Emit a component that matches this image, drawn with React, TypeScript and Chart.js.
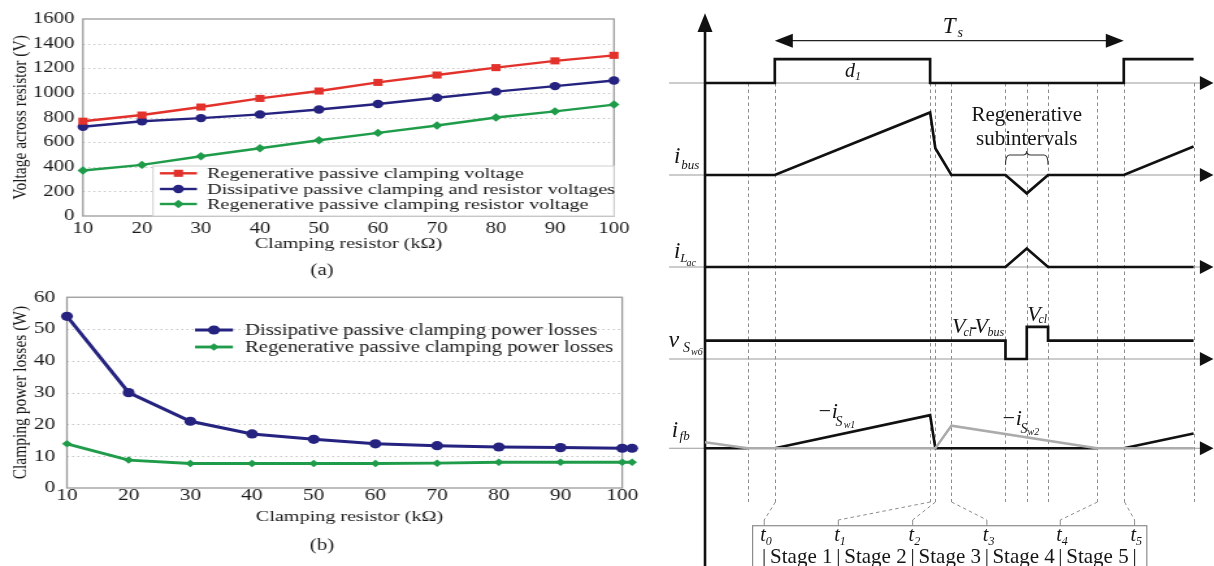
import React, { useEffect, useRef } from "react";
import { Chart, registerables } from "chart.js";

Chart.register(...registerables);

const SERIF = '"Liberation Serif", "Times New Roman", Times, serif';
const TEXT = "#1a1a1a";
const RED = "#e2322b";
const BLUE = "#25237f";
const GREEN = "#1f9c4a";

// ---------------- shared x ticks ----------------
const resistorTicks = [10, 20, 30, 40, 50, 60, 70, 80, 90, 100];

// ---------------- panel (a) ----------------
const resistorA = [10, 20, 30, 40, 50, 60, 70, 80, 90, 100];
const regenClampVoltage = [770, 820, 885, 955, 1015, 1085, 1145, 1205, 1260, 1305];
const dissipVoltage = [725, 770, 795, 825, 865, 910, 960, 1010, 1055, 1100];
const regenResistorVoltage = [370, 415, 485, 550, 615, 675, 735, 800, 850, 905];
const legendA = [
  "Regenerative passive clamping voltage",
  "Dissipative passive clamping and resistor voltages",
  "Regenerative passive clamping resistor voltage",
];
const yRangeA = [0, 1600];
const yStepA = 200;
const xRangeA = [10, 100];

// ---------------- panel (b) ----------------
const resistorB = [10, 20, 30, 40, 50, 60, 70, 80, 90, 100, 101.6];
const dissipLoss = [54, 30, 21, 17, 15.3, 13.9, 13.3, 12.9, 12.7, 12.5, 12.5];
const regenLoss = [13.9, 8.8, 7.7, 7.7, 7.7, 7.7, 7.8, 8.1, 8.1, 8.1, 8.1];
const legendB = [
  "Dissipative passive clamping power losses",
  "Regenerative passive clamping power losses",
];
const yRangeB = [0, 60];
const yStepB = 10;
const xRangeB = [10, 101.6];
const xFrameEnd = 100;

// ---------------- timing diagram ----------------
const TIME_MIN = -12.9;
const TIME_MAX = 145.85;
const LEVEL_MAX = 61.52;
const rowBaselines = [52.5, 42.5, 32.5, 22.5, 12.8]; // d1, i_bus, i_Lac, v_Sw6, i_fb
const gateTime = [0, 20, 20, 64.5, 64.5, 120, 120, 140];
const gateLevel = [0, 0, 2.6, 2.6, 0, 0, 2.6, 2.6];
const busTime = [0, 20, 64.5, 66, 70.6, 86.1, 92.2, 98.3, 120, 140];
const busLevel = [0, 0, 6.8, 2.9, 0, 0, -2, 0, 0, 3.1];
const lacTime = [0, 86.1, 92.2, 98.3, 140];
const lacLevel = [0, 0, 2, 0, 0];
const vswTime = [0, 86.1, 86.1, 92.2, 92.2, 98.3, 98.3, 140];
const vswLevel = [2, 2, 0, 0, 3.5, 3.5, 2, 2];
const fbSw1Time = [0, 12.2, 16, 20, 64.5, 66, 112.3, 116, 120, 140];
const fbSw1Level: (number | null)[] = [0, 0, null, 0, 3.6, 0, 0, null, 0, 1.6];
const fbSw2Time = [0, 12.2, 66, 70.6, 112.3, 140];
const fbSw2Level = [0.65, 0, 0, 2.45, 0, 0];
const dashTimes = [12.2, 20, 64.5, 66, 70.6, 86.1, 92.2, 98.3, 112.3, 120, 140];
const stageTimes = [16.96, 38.2, 59.5, 80.77, 101.8, 123.1];
const stageLinks = [20, 64.5, 66, 70.6, 112.3, 120];
const stageNames = ["Stage 1", "Stage 2", "Stage 3", "Stage 4", "Stage 5"];
const periodSpan = [20, 120];
const regenSpan = [86.1, 98.3];

type Lbl = { text: string; t: number; v: number; size: number; italic?: boolean; align?: CanvasTextAlign };
const diagramLabels: Lbl[] = [
  { text: "T", t: 68.1, v: 57.93, size: 23, italic: true },
  { text: "s", t: 72.35, v: 57.5, size: 14, italic: true },
  { text: "d", t: 40.1, v: 53.15, size: 20, italic: true },
  { text: "1", t: 42.98, v: 52.83, size: 12, italic: true },
  { text: "Regenerative", t: 92.2, v: 48.37, size: 21, align: "center" },
  { text: "subintervals", t: 92.2, v: 45.76, size: 21, align: "center" },
  { text: "i", t: -8.9, v: 43.8, size: 23, italic: true },
  { text: "bus", t: -6.8, v: 43.15, size: 13, italic: true },
  { text: "i", t: -8.9, v: 33.48, size: 23, italic: true },
  { text: "L", t: -7.1, v: 33.04, size: 13, italic: true },
  { text: "ac", t: -5.3, v: 32.6, size: 10, italic: true },
  { text: "v", t: -10.5, v: 23.84, size: 24, italic: true },
  { text: "S", t: -6.3, v: 23.26, size: 14, italic: true },
  { text: "w6", t: -4.0, v: 22.93, size: 10, italic: true },
  { text: "i", t: -9.5, v: 14.05, size: 23, italic: true },
  { text: "fb", t: -7.3, v: 13.7, size: 13, italic: true },
  { text: "V", t: 70.77, v: 25.33, size: 22, italic: true },
  { text: "cl", t: 74.07, v: 25.0, size: 12, italic: true },
  { text: "-", t: 76.07, v: 25.33, size: 20 },
  { text: "V", t: 77.22, v: 25.33, size: 22, italic: true },
  { text: "bus", t: 80.95, v: 25.0, size: 12, italic: true },
  { text: "V", t: 92.35, v: 26.66, size: 22, italic: true },
  { text: "cl", t: 95.56, v: 26.38, size: 12, italic: true },
  { text: "\u2212i", t: 32.09, v: 16.09, size: 22, italic: true },
  { text: "S", t: 37.39, v: 15.25, size: 14, italic: true },
  { text: "w1", t: 39.74, v: 15.0, size: 10, italic: true },
  { text: "\u2212i", t: 84.81, v: 15.33, size: 22, italic: true },
  { text: "S", t: 90.37, v: 14.42, size: 14, italic: true },
  { text: "w2", t: 92.41, v: 14.24, size: 10, italic: true },
];

// ---------------- helpers ----------------
type Series = { label: string; x: number[]; y: number[]; color: string; style: string; radius: number; width: number };

function lineDataset(s: Series) {
  return {
    label: s.label,
    data: s.x.map((x, i) => ({ x, y: s.y[i] })),
    borderColor: s.color,
    backgroundColor: s.color,
    pointBackgroundColor: s.color,
    pointBorderColor: s.color,
    pointStyle: s.style,
    pointRadius: s.radius,
    pointBorderWidth: 0,
    borderWidth: s.width,
    tension: 0,
    clip: false,
  };
}

function drawMarker(ctx: CanvasRenderingContext2D, style: string, x: number, y: number, r: number, color: string) {
  ctx.fillStyle = color;
  ctx.beginPath();
  if (style === "rect") {
    const s = r * Math.SQRT1_2;
    ctx.rect(x - s, y - s, 2 * s, 2 * s);
  } else if (style === "rectRot") {
    ctx.moveTo(x, y - r);
    ctx.lineTo(x + r, y);
    ctx.lineTo(x, y + r);
    ctx.lineTo(x - r, y);
    ctx.closePath();
  } else {
    ctx.arc(x, y, r, 0, Math.PI * 2);
  }
  ctx.fill();
}

type PanelDecor = {
  box: boolean;
  boxLeft: number;
  boxTop: number;
  lineX0: number;
  lineX1: number;
  textX: number;
  rows: number[];
  font: number;
  caption: string;
  capX: number;
  capY: number;
  frameEnd: number;
};

function panelPlugin(p: PanelDecor) {
  return {
    id: "panelDecor",
    beforeDatasetsDraw(chart: any) {
      const { ctx, chartArea: ca, scales } = chart;
      const ys = scales.y;
      const right = scales.x.getPixelForValue(p.frameEnd);
      ctx.save();
      ctx.strokeStyle = "#c6c6c6";
      ctx.lineWidth = 1;
      ctx.setLineDash([1.5, 2.5]);
      ys.ticks.forEach((tk: any) => {
        if (tk.value <= ys.min || tk.value >= ys.max) return;
        const py = Math.round(ys.getPixelForValue(tk.value)) + 0.5;
        ctx.beginPath();
        ctx.moveTo(ca.left, py);
        ctx.lineTo(right, py);
        ctx.stroke();
      });
      ctx.setLineDash([]);
      ctx.strokeStyle = "#9b9b9b";
      ctx.lineWidth = 1.3;
      ctx.strokeRect(ca.left, ca.top, right - ca.left, ca.bottom - ca.top);
      ctx.restore();
    },
    afterDatasetsDraw(chart: any) {
      const { ctx, chartArea: ca, scales } = chart;
      const right = scales.x.getPixelForValue(p.frameEnd);
      ctx.save();
      if (p.box) {
        ctx.fillStyle = "#fff";
        ctx.fillRect(p.boxLeft, p.boxTop, right - p.boxLeft, ca.bottom - p.boxTop);
        ctx.strokeStyle = "#d0d0d0";
        ctx.lineWidth = 1;
        ctx.strokeRect(p.boxLeft, p.boxTop, right - p.boxLeft, ca.bottom - p.boxTop);
      }
      chart.data.datasets.forEach((ds: any, i: number) => {
        const y = p.rows[i];
        ctx.strokeStyle = ds.borderColor;
        ctx.lineWidth = ds.borderWidth;
        ctx.beginPath();
        ctx.moveTo(p.lineX0, y);
        ctx.lineTo(p.lineX1, y);
        ctx.stroke();
        drawMarker(ctx, ds.pointStyle, (p.lineX0 + p.lineX1) / 2, y, ds.pointRadius, ds.borderColor);
        ctx.fillStyle = TEXT;
        ctx.font = `${p.font}px ${SERIF}`;
        ctx.textAlign = "left";
        ctx.textBaseline = "middle";
        ctx.fillText(ds.label, p.textX, y + 1);
      });
      ctx.fillStyle = TEXT;
      ctx.font = `16px ${SERIF}`;
      ctx.textAlign = "center";
      ctx.textBaseline = "middle";
      ctx.fillText(p.caption, p.capX, p.capY);
      ctx.restore();
    },
  };
}

function panelConfig(opts: {
  series: Series[];
  xMin: number;
  xMax: number;
  yMin: number;
  yMax: number;
  yStep: number;
  yTitle: string;
  padTop: number;
  padRight: number;
  yWidth: number;
  xHeight: number;
  xTickPad: number;
  yTickPad: number;
  tickSize: number;
  xTitlePad: number;
  decor: PanelDecor;
}) {
  const tickFont = { family: SERIF, size: opts.tickSize, lineHeight: 1.2 };
  return {
    type: "line",
    data: { datasets: opts.series.map(lineDataset) },
    options: {
      animation: false,
      responsive: false,
      devicePixelRatio: 1,
      events: [],
      layout: { padding: { left: 0, top: opts.padTop, right: opts.padRight, bottom: 0 } },
      plugins: { legend: { display: false }, tooltip: { enabled: false } },
      scales: {
        x: {
          type: "linear",
          min: opts.xMin,
          max: opts.xMax,
          grid: { display: false, drawTicks: false },
          border: { display: false },
          afterBuildTicks: (s: any) => {
            s.ticks = resistorTicks.map((v) => ({ value: v }));
          },
          ticks: {
            color: TEXT,
            font: tickFont,
            padding: opts.xTickPad,
            maxRotation: 0,
            autoSkip: false,
            callback: (v: number) => String(v),
          },
          title: {
            display: true,
            text: "Clamping resistor (k\u03a9)",
            color: TEXT,
            font: { family: SERIF, size: 15.5, lineHeight: 1.2 },
            padding: { top: 0, bottom: opts.xTitlePad },
          },
          afterFit: (s: any) => {
            s.height = opts.xHeight;
          },
        },
        y: {
          type: "linear",
          min: opts.yMin,
          max: opts.yMax,
          grid: { display: false, drawTicks: false },
          border: { display: false },
          ticks: {
            stepSize: opts.yStep,
            color: TEXT,
            font: { family: SERIF, size: opts.tickSize, lineHeight: 1 },
            padding: opts.yTickPad,
            callback: (v: number) => String(v),
          },
          title: {
            display: true,
            text: opts.yTitle,
            color: TEXT,
            font: { family: SERIF, size: 15.5, lineHeight: 1.2 },
            padding: { top: 6.4, bottom: 0 },
          },
          afterFit: (s: any) => {
            s.width = opts.yWidth;
          },
        },
      },
    },
    plugins: [panelPlugin(opts.decor)],
  };
}

// ---------------- diagram plugin ----------------
const diagramPlugin = {
  id: "timingDecor",
  beforeDatasetsDraw(chart: any) {
    const { ctx, scales } = chart;
    const X = (t: number) => scales.x.getPixelForValue(t);
    const Y = (v: number) => scales.y.getPixelForValue(v);
    const seg = (x0: number, y0: number, x1: number, y1: number) => {
      ctx.beginPath();
      ctx.moveTo(x0, y0);
      ctx.lineTo(x1, y1);
      ctx.stroke();
    };
    const dashBottom = 6.96;
    const linkEnd = 5.0;
    const boxTop = 4.38;
    ctx.save();
    ctx.strokeStyle = "#8c8c8c";
    ctx.lineWidth = 1;
    ctx.setLineDash([3.5, 3]);
    dashTimes.forEach((t) => seg(Math.round(X(t)) + 0.5, Y(rowBaselines[0]), Math.round(X(t)) + 0.5, Y(dashBottom)));
    stageTimes.forEach((st, i) => seg(Math.round(X(stageLinks[i])) + 0.5, Y(dashBottom), X(st), Y(linkEnd)));
    ctx.setLineDash([]);
    stageTimes.forEach((st) => seg(X(st), Y(linkEnd), X(st), Y(boxTop)));
    ctx.strokeStyle = "#8c8c8c";
    ctx.lineWidth = 1.2;
    const bx0 = X(13.64);
    const bx1 = X(126.6);
    ctx.strokeRect(bx0, Y(boxTop), bx1 - bx0, Y(-2) - Y(boxTop));
    rowBaselines.forEach((b) => {
      ctx.strokeStyle = "#9a9a9a";
      ctx.lineWidth = 1.2;
      seg(X(-10.3), Y(b), X(141.9), Y(b));
      ctx.fillStyle = "#111";
      ctx.beginPath();
      ctx.moveTo(X(145.7), Y(b));
      ctx.lineTo(X(141.8), Y(b) - 7);
      ctx.lineTo(X(141.8), Y(b) + 7);
      ctx.closePath();
      ctx.fill();
    });
    ctx.strokeStyle = "#111";
    ctx.lineWidth = 2.6;
    seg(X(0), Y(-1), X(0), Y(58.5));
    ctx.fillStyle = "#111";
    ctx.beginPath();
    ctx.moveTo(X(0), Y(60.07));
    ctx.lineTo(X(0) - 7.5, Y(58.05));
    ctx.lineTo(X(0) + 7.5, Y(58.05));
    ctx.closePath();
    ctx.fill();
    const ya = Y(57.1);
    ctx.strokeStyle = "#222";
    ctx.lineWidth = 1.2;
    seg(X(periodSpan[0]) + 10, ya, X(periodSpan[1]) - 10, ya);
    ctx.beginPath();
    ctx.moveTo(X(periodSpan[0]), ya);
    ctx.lineTo(X(periodSpan[0]) + 18, ya - 7);
    ctx.lineTo(X(periodSpan[0]) + 18, ya + 7);
    ctx.closePath();
    ctx.fill();
    ctx.beginPath();
    ctx.moveTo(X(periodSpan[1]), ya);
    ctx.lineTo(X(periodSpan[1]) - 18, ya - 7);
    ctx.lineTo(X(periodSpan[1]) - 18, ya + 7);
    ctx.closePath();
    ctx.fill();
    ctx.restore();
  },
  afterDatasetsDraw(chart: any) {
    const { ctx, scales } = chart;
    const X = (t: number) => scales.x.getPixelForValue(t);
    const Y = (v: number) => scales.y.getPixelForValue(v);
    ctx.save();
    ctx.fillStyle = "#151515";
    ctx.textBaseline = "alphabetic";
    diagramLabels.forEach((l) => {
      ctx.font = `${l.italic ? "italic " : ""}${l.size}px ${SERIF}`;
      ctx.textAlign = l.align || "left";
      ctx.fillText(l.text, X(l.t), Y(l.v));
    });
    const a = X(regenSpan[0]);
    const b = X(regenSpan[1]);
    const c = (a + b) / 2;
    const lo = Y(43.6);
    const top = Y(44.67);
    const tip = Y(45.1);
    ctx.strokeStyle = "#333";
    ctx.lineWidth = 1.2;
    ctx.beginPath();
    ctx.moveTo(a, lo);
    ctx.quadraticCurveTo(a, top, a + 4, top);
    ctx.lineTo(c - 4, top);
    ctx.quadraticCurveTo(c, top, c, tip);
    ctx.quadraticCurveTo(c, top, c + 4, top);
    ctx.lineTo(b - 4, top);
    ctx.quadraticCurveTo(b, top, b, lo);
    ctx.stroke();
    stageTimes.forEach((st, i) => {
      const x = X(st);
      ctx.font = `italic 20px ${SERIF}`;
      ctx.textAlign = "right";
      ctx.fillText("t", x + 1.5, Y(2.72));
      ctx.font = `italic 12px ${SERIF}`;
      ctx.textAlign = "left";
      ctx.fillText(String(i), x + 1.5, Y(2.28));
      ctx.font = `21px ${SERIF}`;
      ctx.textAlign = "center";
      ctx.fillText("|", x, Y(0.33));
      if (i < stageNames.length) {
        ctx.fillText(stageNames[i], (x + X(stageTimes[i + 1])) / 2, Y(0.33));
      }
    });
    ctx.restore();
  },
};

function wave(label: string, times: number[], levels: (number | null)[], base: number, color: string, width: number) {
  return {
    label,
    data: times.map((t, i) => ({ x: t, y: levels[i] === null ? null : base + (levels[i] as number) })),
    borderColor: color,
    backgroundColor: color,
    borderWidth: width,
    pointRadius: 0,
    tension: 0,
    spanGaps: false,
    borderJoinStyle: "miter",
    borderCapStyle: "butt",
  };
}

export default function App() {
  const aRef = useRef<HTMLCanvasElement>(null);
  const bRef = useRef<HTMLCanvasElement>(null);
  const dRef = useRef<HTMLCanvasElement>(null);

  useEffect(() => {
    document.body.style.margin = "0";
    const cfgA: any = panelConfig({
      series: [
        { label: legendA[0], x: resistorA, y: regenClampVoltage, color: RED, style: "rect", radius: 5, width: 2.4 },
        { label: legendA[1], x: resistorA, y: dissipVoltage, color: BLUE, style: "circle", radius: 4.2, width: 2.4 },
        { label: legendA[2], x: resistorA, y: regenResistorVoltage, color: GREEN, style: "rectRot", radius: 4.2, width: 2.4 },
      ],
      xMin: xRangeA[0],
      xMax: xRangeA[1],
      yMin: yRangeA[0],
      yMax: yRangeA[1],
      yStep: yStepA,
      yTitle: "Voltage across resistor (V)",
      padTop: 19,
      padRight: 27.7,
      yWidth: 63.8,
      xHeight: 64,
      xTickPad: 3,
      yTickPad: 6.5,
      tickSize: 16,
      xTitlePad: 27,
      decor: {
        box: true,
        boxLeft: 117.7,
        boxTop: 166,
        lineX0: 123,
        lineX1: 151.5,
        textX: 159.2,
        rows: [173.3, 189, 204],
        font: 15.6,
        caption: "(a)",
        capX: 247.7,
        capY: 271,
        frameEnd: xRangeA[1],
      },
    });
    const cfgB: any = panelConfig({
      series: [
        { label: legendB[0], x: resistorB, y: dissipLoss, color: BLUE, style: "circle", radius: 4.6, width: 3 },
        { label: legendB[1], x: resistorB, y: regenLoss, color: GREEN, style: "rectRot", radius: 3.8, width: 2.8 },
      ],
      xMin: xRangeB[0],
      xMax: xRangeB[1],
      yMin: yRangeB[0],
      yMax: yRangeB[1],
      yStep: yStepB,
      yTitle: "Clamping power losses (W)",
      padTop: 8,
      padRight: 13.8,
      yWidth: 51.5,
      xHeight: 78,
      xTickPad: -2,
      yTickPad: 9,
      tickSize: 16.5,
      xTitlePad: 40,
      decor: {
        box: false,
        boxLeft: 0,
        boxTop: 0,
        lineX0: 150,
        lineX1: 179.2,
        textX: 188.5,
        rows: [50, 67],
        font: 15.9,
        caption: "(b)",
        capX: 247.7,
        capY: 266,
        frameEnd: xFrameEnd,
      },
    });
    const cfgD: any = {
      type: "line",
      data: {
        datasets: [
          wave("d1", gateTime, gateLevel, rowBaselines[0], "#111", 2.7),
          wave("i_bus", busTime, busLevel, rowBaselines[1], "#111", 2.7),
          wave("i_Lac", lacTime, lacLevel, rowBaselines[2], "#111", 2.7),
          wave("v_Sw6", vswTime, vswLevel, rowBaselines[3], "#111", 2.7),
          wave("-i_Sw2", fbSw2Time, fbSw2Level, rowBaselines[4], "#ababab", 2.5),
          wave("-i_Sw1", fbSw1Time, fbSw1Level, rowBaselines[4], "#111", 2.7),
        ],
      },
      options: {
        animation: false,
        responsive: false,
        devicePixelRatio: 1,
        events: [],
        layout: { padding: 0 },
        plugins: { legend: { display: false }, tooltip: { enabled: false } },
        scales: {
          x: { type: "linear", display: false, min: TIME_MIN, max: TIME_MAX },
          y: { type: "linear", display: false, min: 0, max: LEVEL_MAX },
        },
      },
      plugins: [diagramPlugin],
    };
    const charts = [
      new Chart(aRef.current as HTMLCanvasElement, cfgA),
      new Chart(bRef.current as HTMLCanvasElement, cfgB),
      new Chart(dRef.current as HTMLCanvasElement, cfgD),
    ];
    return () => charts.forEach((c) => c.destroy());
  }, []);

  return (
    <div style={{ position: "relative", width: 1214, height: 566, overflow: "hidden", background: "#fff" }}>
      <canvas ref={aRef} width={500} height={280} style={{ position: "absolute", left: 0, top: 0, width: 650, height: 280 }} />
      <canvas ref={bRef} width={500} height={286} style={{ position: "absolute", left: 0, top: 280, width: 650, height: 286 }} />
      <canvas ref={dRef} width={554} height={566} style={{ position: "absolute", left: 660, top: 0, width: 554, height: 566 }} />
    </div>
  );
}
